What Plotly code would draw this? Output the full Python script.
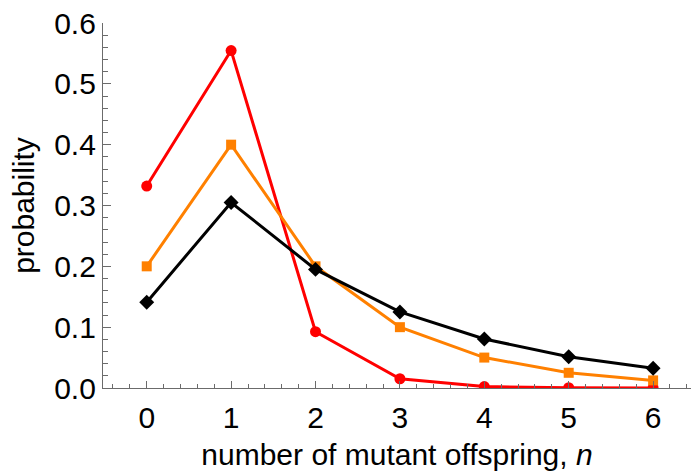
import plotly.graph_objects as go

n_values = [0, 1, 2, 3, 4, 5, 6]
red_prob = [0.332, 0.5547, 0.0925, 0.0152, 0.0024, 0.0004, 0.00004]
orange_prob = [0.2, 0.4, 0.2, 0.1, 0.05, 0.025, 0.0125]
black_prob = [0.141, 0.305, 0.195, 0.125, 0.0805, 0.0515, 0.0325]

x_title = "number of mutant offspring, <i>n</i>"
y_title = "probability"

FONT = "Liberation Sans, Arial, sans-serif"
AXIS_COLOR = "#6b6b6b"

fig = go.Figure()
fig.add_trace(go.Scatter(x=n_values, y=red_prob, mode="lines+markers",
                         line=dict(color="#FF0000", width=3),
                         marker=dict(symbol="circle", size=11, color="#FF0000")))
fig.add_trace(go.Scatter(x=n_values, y=orange_prob, mode="lines+markers",
                         line=dict(color="#FF8000", width=3),
                         marker=dict(symbol="square", size=10, color="#FF8000")))
fig.add_trace(go.Scatter(x=n_values, y=black_prob, mode="lines+markers",
                         line=dict(color="#000000", width=3),
                         marker=dict(symbol="diamond", size=11.5, color="#000000")))

fig.update_layout(
    width=691, height=476,
    margin=dict(l=103, r=0, t=23, b=88),
    paper_bgcolor="white", plot_bgcolor="white",
    showlegend=False,
    font=dict(family=FONT, size=30, color="black"),
)
fig.update_xaxes(
    range=[-0.518, 6.449], tick0=0, dtick=1,
    showline=True, linecolor=AXIS_COLOR, linewidth=1.2,
    ticks="inside", ticklen=7, tickcolor=AXIS_COLOR, tickwidth=1,
    minor=dict(dtick=0.2, tick0=0, ticks="inside", ticklen=4, tickcolor=AXIS_COLOR, showgrid=False),
    showgrid=False, zeroline=False,
    tickfont=dict(size=30), ticklabelstandoff=3,
    title=dict(text=x_title, font=dict(size=30), standoff=10),
)
fig.update_yaxes(
    range=[0, 0.6], tick0=0, dtick=0.1, tickformat=".1f",
    showline=True, linecolor=AXIS_COLOR, linewidth=1.2,
    ticks="inside", ticklen=8, tickcolor=AXIS_COLOR, tickwidth=1,
    minor=dict(dtick=0.02, tick0=0, ticks="inside", ticklen=5, tickcolor=AXIS_COLOR, showgrid=False),
    showgrid=False, zeroline=False,
    tickfont=dict(size=30),
    title=dict(text=y_title, font=dict(size=30), standoff=10),
)

fig.write_html("out.html")
